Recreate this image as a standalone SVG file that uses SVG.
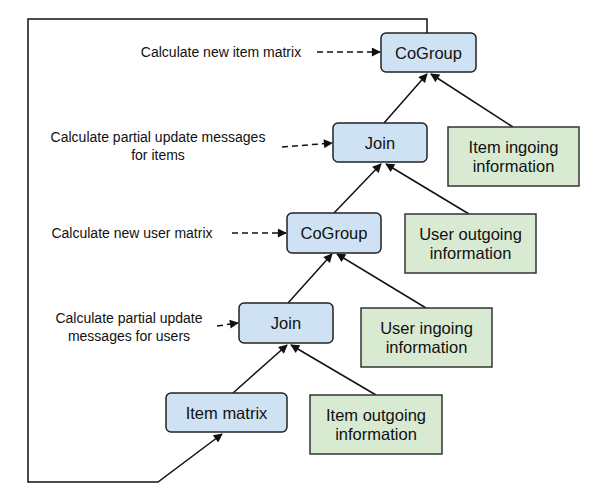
<svg xmlns="http://www.w3.org/2000/svg" width="600" height="500" viewBox="0 0 600 500">
<defs>
<style>
.op rect{fill:#cfe2f3;stroke:#222;stroke-width:1.5}
.src rect{fill:#d9ead3;stroke:#333;stroke-width:1.5}
.box{font-family:"Liberation Sans",Arial,sans-serif;font-size:16.5px;fill:#111;text-anchor:middle}
.lbl{font-family:"Liberation Sans",Arial,sans-serif;font-size:14px;fill:#111;text-anchor:middle}
.e{fill:none;stroke:#111;stroke-width:1.5}
.s{marker-end:url(#ah)}
.d{stroke-dasharray:6 4;marker-end:url(#ah)}
</style>
<marker id="ah" viewBox="0 0 10 10" refX="9" refY="5" markerWidth="10" markerHeight="9" markerUnits="userSpaceOnUse" orient="auto">
<path d="M0,0 L10,5 L0,10 z" fill="#111"/>
</marker>
</defs>
<rect width="600" height="500" fill="#fff"/>
<g id="connectors">
<path class="e" d="M427,33 V19 H28 V482 H158 L222,434" marker-end="url(#ah)"/>
<path class="e s" d="M384,123 L427,74"/>
<path class="e s" d="M513,127 L431,74"/>
<path class="e s" d="M334,213 L381,164"/>
<path class="e s" d="M469,214 L386,164"/>
<path class="e s" d="M288,303 L332,254"/>
<path class="e s" d="M426,308 L337,254"/>
<path class="e s" d="M233,393 L287,345"/>
<path class="e s" d="M376,395 L291,345"/>
<path class="e d" d="M317,52 L380,52"/>
<path class="e d" d="M282,147 L332,143"/>
<path class="e d" d="M232,233 L286,233"/>
<path class="e d" d="M217,326 L238,323"/>
</g>
<g id="cogroup-top" class="op"><rect x="381" y="33" width="95" height="39" rx="5"/><text class="box" x="428.5" y="58.5">CoGroup</text></g>
<g id="join-top" class="op"><rect x="333" y="123" width="94" height="39" rx="5"/><text class="box" x="380" y="148.5">Join</text></g>
<g id="cogroup-mid" class="op"><rect x="287" y="213" width="94" height="40" rx="5"/><text class="box" x="334" y="239">CoGroup</text></g>
<g id="join-low" class="op"><rect x="239" y="303" width="94" height="40" rx="5"/><text class="box" x="286" y="329">Join</text></g>
<g id="item-matrix" class="op"><rect x="166" y="393" width="121" height="39" rx="5"/><text class="box" x="226.5" y="418.5">Item matrix</text></g>
<g id="item-ingoing" class="src"><rect x="448" y="127" width="131" height="59"/><text class="box" x="513.5" y="153">Item ingoing</text><text class="box" x="513.5" y="172">information</text></g>
<g id="user-outgoing" class="src"><rect x="405" y="214" width="131" height="59"/><text class="box" x="470.5" y="240">User outgoing</text><text class="box" x="470.5" y="259">information</text></g>
<g id="user-ingoing" class="src"><rect x="361" y="308" width="131" height="59"/><text class="box" x="426.5" y="334">User ingoing</text><text class="box" x="426.5" y="353">information</text></g>
<g id="item-outgoing" class="src"><rect x="310" y="395" width="132" height="59"/><text class="box" x="376" y="421">Item outgoing</text><text class="box" x="376" y="440">information</text></g>
<g id="labels">
<text class="lbl" x="221" y="57">Calculate new item matrix</text>
<text class="lbl" x="158" y="142">Calculate partial update messages</text>
<text class="lbl" x="158" y="160">for items</text>
<text class="lbl" x="132" y="238">Calculate new user matrix</text>
<text class="lbl" x="129" y="323">Calculate partial update</text>
<text class="lbl" x="129" y="341">messages for users</text>
</g>
</svg>
